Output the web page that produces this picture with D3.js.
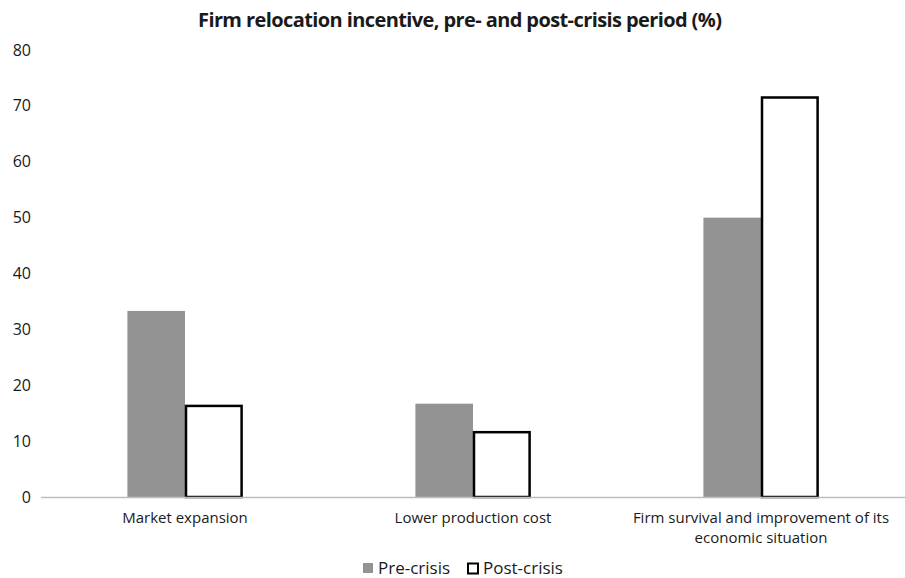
<!DOCTYPE html>
<html>
<head>
<meta charset="utf-8">
<script src="https://cdn.jsdelivr.net/npm/d3@7"></script>
<style>
  body { margin: 0; background: #fff; }
  text { font-family: "Open Sans", sans-serif; fill: #1a1a1a; }
</style>
</head>
<body>
<div id="chart"></div>
<script>
// data
const categories = ['Market expansion', 'Lower production cost', 'Firm survival and improvement of its|economic situation'];
const series = ['Pre-crisis', 'Post-crisis'];
const preCrisis = [33.3, 16.7, 50];
const postCrisis = [16.3, 11.6, 71.5];
const yTicks = [0, 10, 20, 30, 40, 50, 60, 70, 80];

const width = 905, height = 578;
const margin = { left: 41, right: 0, top: 50, bottom: 81 };

const svg = d3.select('#chart').append('svg')
  .attr('width', width)
  .attr('height', height);

const x = d3.scaleBand()
  .domain(categories)
  .range([margin.left, width - margin.right])
  .paddingInner(0.6)
  .paddingOuter(0.3);

const xs = d3.scaleBand()
  .domain(series)
  .range([0, x.bandwidth()]);

const y = d3.scaleLinear()
  .domain([0, 80])
  .range([height - margin.bottom, margin.top]);

// title
svg.append('text')
  .attr('x', 460)
  .attr('y', 27)
  .attr('text-anchor', 'middle')
  .attr('textLength', 524)
  .style('font-size', '20px')
  .style('font-weight', 'bold')
  .text('Firm relocation incentive, pre- and post-crisis period (%)');

// y labels (no axis line)
svg.append('g')
  .selectAll('text')
  .data(yTicks)
  .enter()
  .append('text')
    .attr('x', 31)
    .attr('y', d => y(d))
    .attr('dy', '0.35em')
    .attr('text-anchor', 'end')
    .style('font-size', '16px')
    .text(d => d);

// bars
const rows = categories.map((c, i) => ({ cat: c, vals: [preCrisis[i], postCrisis[i]] }));
const group = svg.selectAll('.cat')
  .data(rows)
  .enter()
  .append('g')
    .attr('class', 'cat')
    .attr('transform', d => 'translate(' + x(d.cat) + ',0)');

group.selectAll('rect')
  .data(d => d.vals.map((v, j) => ({ s: series[j], v: v })))
  .enter()
  .append('rect')
    .attr('x', d => xs(d.s) + (d.s === 'Post-crisis' ? 1 : 0))
    .attr('y', d => y(d.v))
    .attr('width', d => xs.bandwidth() - (d.s === 'Post-crisis' ? 2 : 0))
    .attr('height', d => y(0) - y(d.v))
    .attr('fill', d => d.s === 'Pre-crisis' ? '#939393' : '#fff')
    .attr('stroke', d => d.s === 'Pre-crisis' ? 'none' : '#000')
    .attr('stroke-width', 2.5);

// x axis line
svg.append('line')
  .attr('x1', margin.left)
  .attr('x2', width)
  .attr('y1', y(0) + 0.5)
  .attr('y2', y(0) + 0.5)
  .attr('stroke', '#bdbdbd')
  .attr('stroke-width', 1.5);

// category labels
svg.append('g')
  .selectAll('text')
  .data(categories)
  .enter()
  .append('text')
    .attr('x', d => x(d) + x.bandwidth() / 2)
    .attr('y', 523)
    .attr('text-anchor', 'middle')
    .style('font-size', '15px')
    .each(function(d) {
      const lines = d.split('|');
      d3.select(this).selectAll('tspan')
        .data(lines)
        .enter()
        .append('tspan')
          .attr('x', x(d) + x.bandwidth() / 2)
          .attr('dy', (l, i) => i === 0 ? 0 : 20)
          .text(l => l);
    });

// legend
const legend = svg.append('g').attr('transform', 'translate(363,568)');
legend.append('rect')
  .attr('x', 0).attr('y', -5)
  .attr('width', 10).attr('height', 10)
  .attr('fill', '#939393');
legend.append('text')
  .attr('x', 15).attr('y', 0).attr('dy', '0.35em')
  .style('font-size', '17px')
  .text(series[0]);
legend.append('rect')
  .attr('x', 105).attr('y', -4.5)
  .attr('width', 10).attr('height', 10)
  .attr('fill', '#fff')
  .attr('stroke', '#000')
  .attr('stroke-width', 2);
legend.append('text')
  .attr('x', 120).attr('y', 0).attr('dy', '0.35em')
  .style('font-size', '17px')
  .text(series[1]);
</script>
</body>
</html>
